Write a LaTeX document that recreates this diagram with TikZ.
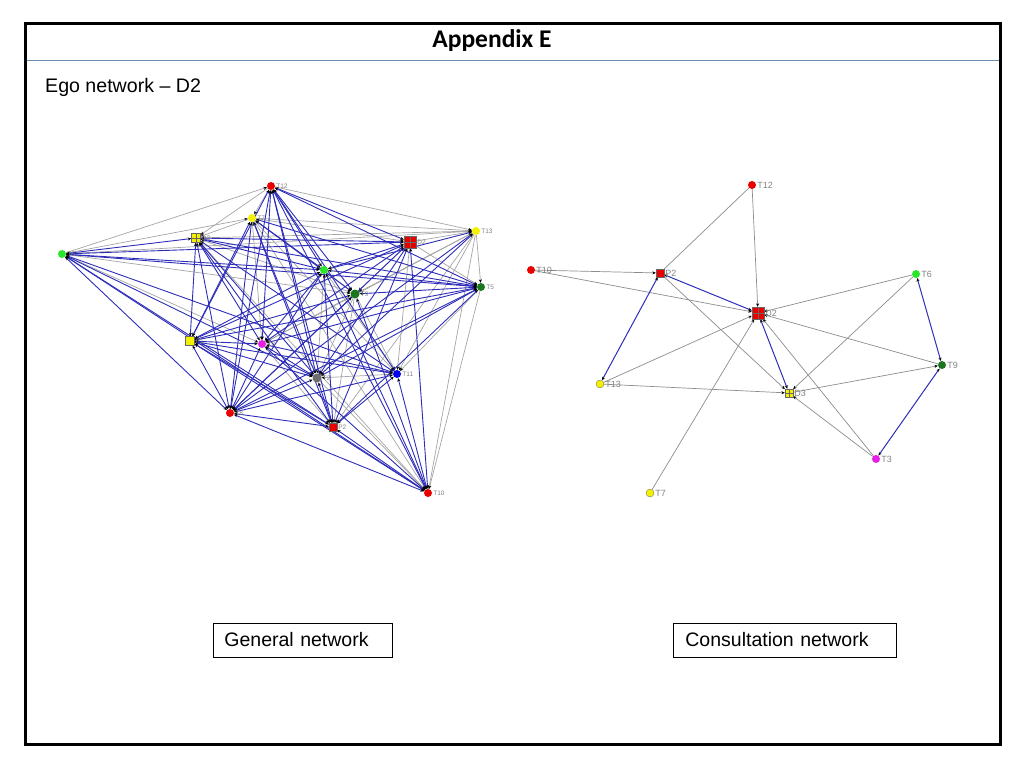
\documentclass[tikz,border=0pt]{standalone}
\usepackage{fontspec}
\setmainfont{Liberation Sans}
\newfontfamily\carlito{Carlito}
\usetikzlibrary{arrows.meta,backgrounds}
\definecolor{nred}{RGB}{235,0,0}
\definecolor{nyel}{RGB}{245,240,0}
\definecolor{ngrn}{RGB}{40,230,40}
\definecolor{ndgrn}{RGB}{25,120,30}
\definecolor{nmag}{RGB}{230,30,230}
\definecolor{ngry}{RGB}{110,110,110}
\definecolor{nblu}{RGB}{0,0,240}
\definecolor{eblue}{RGB}{45,45,185}
\definecolor{egray}{RGB}{165,165,165}
\definecolor{egray2}{RGB}{140,140,140}
\definecolor{labgray}{RGB}{130,130,130}
\definecolor{rulecol}{RGB}{110,140,175}
\begin{document}
\begin{tikzpicture}[x=1pt,y=-1pt,
  dot/.style={circle,inner sep=0pt,minimum size=#1},
  sqr/.style={rectangle,inner sep=0pt,minimum size=#1,draw=black!60,line width=0.3pt},
  gridsq/.style={path picture={\draw[black!60,line width=0.3pt]
     (path picture bounding box.north) -- (path picture bounding box.south)
     (path picture bounding box.west) -- (path picture bounding box.east);}},
  llab/.style={font=\fontsize{6.5}{7}\selectfont,text=labgray,inner sep=1pt},
  rlab/.style={font=\fontsize{9}{10}\selectfont,text=labgray,inner sep=1pt},
  tip/.style={-{Stealth[length=3.5pt,width=3pt,black]}},
  btip/.style={{Stealth[length=3.5pt,width=3pt,black]}-{Stealth[length=3.5pt,width=3pt,black]}},
  bl/.style={draw=eblue,line width=0.9pt,btip},
  gr/.style={draw=egray,line width=0.7pt,tip},
  rgr/.style={draw=egray2,line width=0.7pt,tip},
  rbl/.style={draw=eblue,line width=1pt,btip},
  caption/.style={draw=black,line width=0.8pt,font=\fontsize{19.5}{22}\selectfont,align=left,inner ysep=5pt,minimum height=34pt}
]
\useasboundingbox (0,0) rectangle (1024,768);
\draw[line width=3pt] (25,24) rectangle (1000,744);
\draw[rulecol,line width=1pt] (26.5,60) -- (998.5,60);
\node[font=\carlito\bfseries\fontsize{25.5}{28}\selectfont] (title) at (492,41) {Appendix E};
\node[anchor=west,font=\fontsize{19.6}{22}\selectfont,inner sep=0pt] (ego) at (45,87) {Ego network -- D2};

% ---------- General network (left) ----------
\node[dot=8pt,fill=nred,label={[llab]right:T12}] (LT12) at (271,186) {};
\node[dot=8pt,fill=nyel,label={[llab]right:T7}] (LT7) at (252,218) {};
\node[sqr=9pt,fill=nyel,gridsq,label={[llab]right:D3}] (LD3) at (196,238) {};
\node[dot=8pt,fill=ngrn,label={[llab]right:T6}] (LT6) at (62,254) {};
\node[sqr=12pt,fill=nred,gridsq,label={[llab]right:D2}] (LD2) at (410,242) {};
\node[dot=8pt,fill=nyel,label={[llab]right:T13}] (LT13) at (476,231) {};
\node[dot=8pt,fill=ngrn,label={[llab]right:T1}] (LT1) at (324,270) {};
\node[dot=9pt,fill=ndgrn,label={[llab]right:T9}] (LT9) at (355,294) {};
\node[dot=8pt,fill=ndgrn,label={[llab]right:T5}] (LT5) at (481,287) {};
\node[sqr=9pt,fill=nyel,label={[llab]right:P1}] (LP1) at (190,341) {};
\node[dot=8pt,fill=nmag,label={[llab]right:T3}] (LT3) at (262,344) {};
\node[dot=9pt,fill=ngry,label={[llab]right:T2}] (LT2) at (317,378) {};
\node[dot=8pt,fill=nblu,label={[llab]right:T11}] (LT11) at (397,374) {};
\node[dot=8pt,fill=nred,label={[llab]right:T8}] (LT8) at (230,413) {};
\node[sqr=8pt,fill=nred,label={[llab]right:P2}] (LP2) at (333,427) {};
\node[dot=8pt,fill=nred,label={[llab]right:T10}] (LT10) at (428,493) {};

\begin{scope}[on background layer]
\foreach \a/\b in {T6/T12,T6/T7,T6/T13,T6/T9,T6/T3,
  T12/D3,T12/T7,T12/T13,
  T7/D3,T7/D2,T7/T13,T7/T3,T7/T11,T7/T10,
  D3/T13,D3/T9,D3/T10,
  D2/T13,D2/T5,D2/T9,D2/T11,
  T13/T5,T13/T9,T13/T3,T13/T11,T13/P2,T13/T10,
  T1/T9,T1/T2,T1/T11,
  T9/T3,T9/T2,T9/T11,T9/P2,
  T5/T11,T5/T10,T3/P2,T2/T10,T11/T2}
  \draw[gr] (L\a) -- (L\b);
\foreach \a/\b in {T6/D3,T6/D2,T6/T1,T6/T5,T6/T2,T6/P2,T6/T8,T6/T10,T6/T11,
  T12/D2,T12/T1,T12/T9,T12/T5,T12/P1,T12/T3,T12/T2,T12/T11,T12/P2,T12/T8,T12/T10,
  T7/T1,T7/P1,T7/T8,T7/T5,T7/T2,T7/P2,T7/T9,
  D3/D2,D3/T1,D3/T5,D3/P1,D3/T3,D3/T2,D3/T8,D3/P2,D3/T11,
  D2/T1,D2/P1,D2/T8,D2/P2,D2/T3,D2/T10,D2/T2,
  T13/T1,T13/T8,T13/T2,
  T1/P1,T1/T8,T1/P2,T1/T10,T1/T5,T1/T3,
  T9/P1,T9/T8,T9/T10,T9/T5,
  T5/P1,T5/T3,T5/T8,T5/T2,T5/P2,
  P1/T3,P1/T2,P1/T11,P1/T8,P1/P2,P1/T10,
  T3/T8,T3/T2,T3/T11,T3/T10,
  T2/T8,T2/P2,T11/T8,T11/P2,T11/T10,
  T8/P2,T8/T10,P2/T10}
  \draw[bl] (L\a) -- (L\b);
\end{scope}

% ---------- Consultation network (right) ----------
\node[dot=8pt,fill=nred,label={[rlab]right:T12}] (RT12) at (752,185) {};
\node[dot=8pt,fill=nred,label={[rlab]right:T10}] (RT10) at (531,270) {};
\node[sqr=8pt,fill=nred,label={[rlab]right:P2}] (RP2) at (660,273) {};
\node[sqr=12pt,fill=nred,gridsq,label={[rlab]right:D2}] (RD2) at (758,313) {};
\node[dot=8pt,fill=ngrn,label={[rlab]right:T6}] (RT6) at (916,274) {};
\node[dot=8pt,fill=ndgrn,label={[rlab]right:T9}] (RT9) at (942,365) {};
\node[dot=8pt,fill=nyel,draw=black!60,line width=0.3pt,label={[rlab]right:T13}] (RT13) at (600,384) {};
\node[sqr=8pt,fill=nyel,gridsq,label={[rlab]right:D3}] (RD3) at (789,393) {};
\node[dot=8pt,fill=nmag,label={[rlab]right:T3}] (RT3) at (876,459) {};
\node[dot=8pt,fill=nyel,draw=black!60,line width=0.3pt,label={[rlab]right:T7}] (RT7) at (650,493) {};

\begin{scope}[on background layer]
\foreach \a/\b in {T10/P2,T10/D2,T12/D2,P2/D3,T13/D2,T13/D3,T7/D2,
  T6/D2,T9/D2,T6/D3,D3/T9,T3/D2,T3/D3}
  \draw[rgr] (R\a) -- (R\b);
\draw[egray2,line width=0.7pt] (RT12) -- (RP2);
\foreach \a/\b in {P2/D2,T13/P2,D2/D3,T6/T9,T3/T9}
  \draw[rbl] (R\a) -- (R\b);
\end{scope}

% ---------- captions ----------
\node[caption,anchor=west,inner xsep=11pt,text width=157pt] (gen) at (213,640) {General network};
\node[caption,anchor=west,inner xsep=12pt,text width=199pt] (con) at (673,640) {Consultation network};
\end{tikzpicture}
\end{document}
